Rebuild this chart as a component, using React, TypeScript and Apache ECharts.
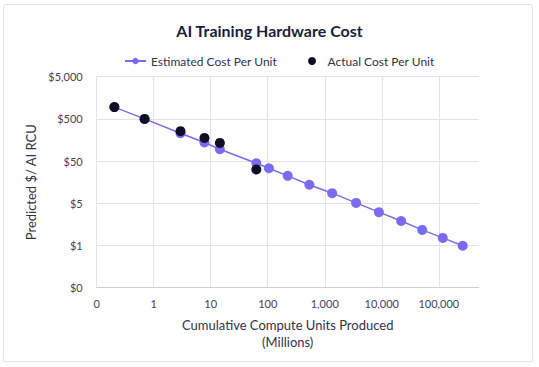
import React, { useEffect, useRef } from "react";
import * as echarts from "echarts";

// x positions are in axis-index units (0 → "0", 1 → "1", 2 → "10", ...)
// y positions are in axis-index units (0 → "$0", 1 → "$1", 2 → "$5", ...)
const xTickLabels = ["0", "1", "10", "100", "1,000", "10,000", "100,000"];
const yTickLabels = ["$0", "$1", "$5", "$50", "$500", "$5,000"];

const estX = [0.31, 0.84, 1.47, 1.89, 2.16, 2.8, 3.02, 3.35, 3.73, 4.13, 4.55, 4.95, 5.34, 5.71, 6.07, 6.42];
const estY = [4.28, 4.0, 3.66, 3.44, 3.28, 2.95, 2.83, 2.65, 2.44, 2.24, 2.01, 1.79, 1.58, 1.37, 1.18, 0.995];

const actX = [0.31, 0.84, 1.47, 1.89, 2.16, 2.8];
const actY = [4.28, 4.0, 3.71, 3.55, 3.43, 2.8];

const FONT = "Lato, 'Noto Sans', sans-serif";

export default function App() {
  const ref = useRef<HTMLDivElement>(null);
  useEffect(() => {
    if (!ref.current) return;
    const chart = echarts.init(ref.current, undefined, { renderer: "svg" });
    chart.setOption({
      animation: false,
      backgroundColor: "#ffffff",
      textStyle: { fontFamily: FONT },
      title: {
        text: "AI Training Hardware Cost",
        left: "center",
        top: 17,
        textStyle: { fontFamily: FONT, fontSize: 16, fontWeight: "bold", color: "#1c1d3a" },
      },
      legend: {
        top: 55,
        left: 124,
        padding: 0,
        itemWidth: 21,
        itemHeight: 8,
        itemGap: 31,
        textStyle: { fontFamily: FONT, fontSize: 12, color: "#333344" },
        data: ["Estimated Cost Per Unit", "Actual Cost Per Unit"],
      },
      graphic: [
        {
          type: "rect",
          shape: { x: 3.5, y: 4.5, width: 529, height: 357, r: 2 },
          style: { fill: "none", stroke: "#e4e4e4", lineWidth: 1 },
          silent: true,
        },
      ],
      grid: { left: 96.7, right: 60.3, top: 76.7, bottom: 79.3, containLabel: false },
      xAxis: {
        type: "value",
        min: 0,
        max: 6.7,
        interval: 1,
        name: "Cumulative Compute Units Produced\n(Millions)",
        nameLocation: "middle",
        nameGap: 29,
        nameTextStyle: { fontFamily: FONT, fontSize: 13, color: "#333344", lineHeight: 17 },
        axisLine: { show: true, lineStyle: { color: "#cfcfcf" } },
        axisTick: { show: false },
        axisLabel: {
          fontFamily: FONT,
          fontSize: 11,
          color: "#444455",
          margin: 10,
          formatter: (v: number) => (Number.isInteger(v) && xTickLabels[v] !== undefined ? xTickLabels[v] : ""),
        },
        splitLine: { show: true, showMaxLine: false, lineStyle: { color: "#e3e3e3" } },
      },
      yAxis: {
        type: "value",
        min: 0,
        max: 5,
        interval: 1,
        name: "Predicted $/ AI RCU",
        nameLocation: "middle",
        nameRotate: 90,
        nameGap: 54,
        nameTextStyle: { fontFamily: FONT, fontSize: 13, color: "#333344" },
        axisLine: { show: false },
        axisTick: { show: false },
        axisLabel: {
          fontFamily: FONT,
          fontSize: 11,
          color: "#444455",
          margin: 14,
          formatter: (v: number) => (yTickLabels[v] !== undefined ? yTickLabels[v] : ""),
        },
        splitLine: { show: true, lineStyle: { color: "#e3e3e3" } },
      },
      series: [
        {
          name: "Estimated Cost Per Unit",
          type: "line",
          data: estX.map((x, i) => [x, estY[i]]),
          symbol: "circle",
          symbolSize: 10,
          itemStyle: { color: "#7a6cf0", opacity: 1 },
          lineStyle: { color: "#7a6cf0", width: 1.5 },
          z: 2,
        },
        {
          name: "Actual Cost Per Unit",
          type: "scatter",
          data: actX.map((x, i) => [x, actY[i]]),
          symbol: "circle",
          symbolSize: 10,
          itemStyle: { color: "#0f0f26", opacity: 1 },
          z: 3,
        },
      ],
    });
    return () => chart.dispose();
  }, []);
  return <div ref={ref} style={{ position: "absolute", left: 0, top: 0, width: 539, height: 367 }} />;
}
